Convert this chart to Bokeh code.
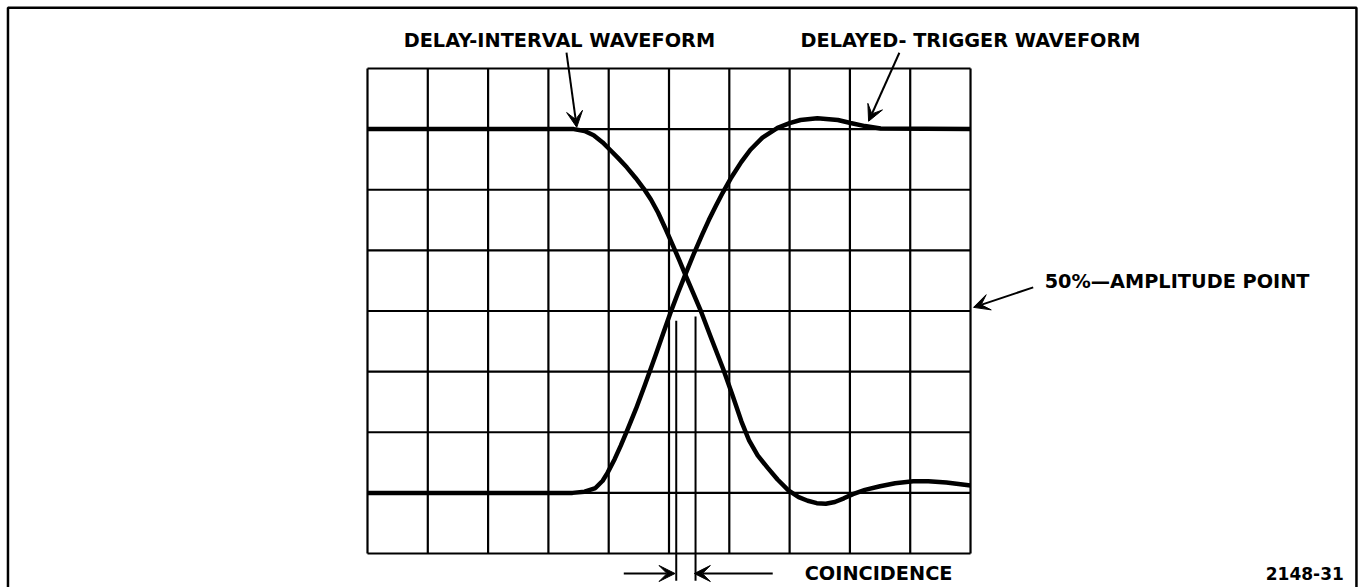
from bokeh.plotting import figure
from bokeh.models import Arrow, VeeHead, Range1d
from bokeh.core.properties import value
from bokeh.embed import file_html
from bokeh.resources import INLINE

# ---------------- data ----------------
# graticule: 10 horizontal divisions, 8 vertical divisions
grid_cols = list(range(0, 11))
grid_rows = list(range(0, 9))

# delay-interval waveform (falling edge), in divisions
delay_x = [0, 3.0, 3.42, 3.6, 3.75, 3.9, 4.0, 4.15, 4.3, 4.45, 4.58, 4.7, 4.82, 4.94, 5.06,
           5.17, 5.27, 5.40, 5.52, 5.70, 5.90, 6.05, 6.20, 6.33, 6.47, 6.63, 6.80,
           6.98, 7.15, 7.30, 7.45, 7.60, 7.75, 7.90, 8.05, 8.25, 8.50, 8.75, 9.05,
           9.30, 9.60, 10.0]
delay_y = [7.0, 7.0, 7.0, 6.97, 6.90, 6.78, 6.68, 6.53, 6.37, 6.19, 6.02, 5.84, 5.62, 5.36, 5.09,
           4.84, 4.60, 4.30, 4.02, 3.55, 3.04, 2.62, 2.18, 1.86, 1.62, 1.42, 1.22,
           1.04, 0.93, 0.87, 0.83, 0.82, 0.85, 0.91, 0.98, 1.05, 1.11, 1.16, 1.19,
           1.19, 1.17, 1.12]

# delayed-trigger waveform (rising edge), in divisions
trig_x = [0, 3.4, 3.6, 3.78, 3.9, 3.98, 4.1, 4.2, 4.31, 4.45, 4.6, 4.78, 4.9, 5.02,
          5.15, 5.27, 5.41, 5.55, 5.66, 5.78, 5.89, 6.02, 6.2, 6.35, 6.55, 6.8,
          7.0, 7.18, 7.46, 7.8, 8.01, 8.25, 8.51, 10.0]
trig_y = [1.0, 1.0, 1.02, 1.08, 1.2, 1.33, 1.56, 1.78, 2.04, 2.38, 2.78, 3.28, 3.62, 3.96,
          4.30, 4.60, 4.94, 5.26, 5.50, 5.74, 5.95, 6.18, 6.46, 6.66, 6.86, 7.02,
          7.10, 7.15, 7.18, 7.15, 7.10, 7.05, 7.01, 7.0]

# coincidence markers (x position, top of line)
coinc_x = [5.12, 5.44]
coinc_top = [3.84, 3.91]
coinc_bottom = -0.45

labels = ["DELAY-INTERVAL WAVEFORM", "DELAYED- TRIGGER WAVEFORM",
          "50%\u2014AMPLITUDE POINT", "COINCIDENCE"]
label_x = [0.60, 7.18, 11.23, 7.25]
label_y = [8.46, 8.46, 4.49, -0.33]

fig_id = ["2148-31"]
fig_id_x = [16.19]
fig_id_y = [-0.33]

# arrows: (tail x, tail y, tip x, tip y)
arrows = [
    (3.30, 8.26, 3.47, 7.03),
    (8.82, 8.26, 8.31, 7.13),
    (11.04, 4.39, 10.05, 4.06),
    (4.25, -0.33, 5.10, -0.33),
    (6.72, -0.33, 5.42, -0.33),
]

# ---------------- figure ----------------
W, H = 1358, 587
p = figure(width=W, height=H, output_backend="svg", toolbar_location=None,
           x_range=Range1d(-6.086, 16.434), y_range=Range1d(-0.5608, 9.1216),
           min_border=0, outline_line_color=None, background_fill_color="white",
           border_fill_color="white")
p.axis.visible = False
p.xgrid.visible = False
p.ygrid.visible = False

# frame border (left, top, right)
p.line([-5.962, -5.962, 16.40, 16.40], [-0.7, 9.0, 9.0, -0.7],
       line_color="black", line_width=2.5)

# graticule
p.segment(x0=grid_cols, y0=[grid_rows[0]] * len(grid_cols),
          x1=grid_cols, y1=[grid_rows[-1]] * len(grid_cols),
          line_color="black", line_width=2.2)
p.segment(x0=[grid_cols[0]] * len(grid_rows), y0=grid_rows,
          x1=[grid_cols[-1]] * len(grid_rows), y1=grid_rows,
          line_color="black", line_width=2.2)

# waveforms
p.line(delay_x, delay_y, line_color="black", line_width=4.5, line_join="round")
p.line(trig_x, trig_y, line_color="black", line_width=4.5, line_join="round")

# coincidence lines
p.segment(x0=coinc_x, y0=coinc_top, x1=coinc_x, y1=[coinc_bottom] * 2,
          line_color="black", line_width=2)

for (xs, ys, xe, ye) in arrows:
    p.add_layout(Arrow(end=VeeHead(size=16, fill_color="black", line_color="black",
                                   line_width=1),
                       x_start=xs, y_start=ys, x_end=xe, y_end=ye,
                       line_color="black", line_width=2))

p.text(x=label_x, y=label_y, text=labels, text_font=value("DejaVu Sans"),
       text_font_style="bold", text_font_size="19.3px", text_align="left",
       text_baseline="middle", text_color="black")
p.text(x=fig_id_x, y=fig_id_y, text=fig_id, text_font=value("DejaVu Sans"),
       text_font_style="bold", text_font_size="17px", text_align="right",
       text_baseline="middle", text_color="black")

open("out.html", "w").write(file_html(p, INLINE))
